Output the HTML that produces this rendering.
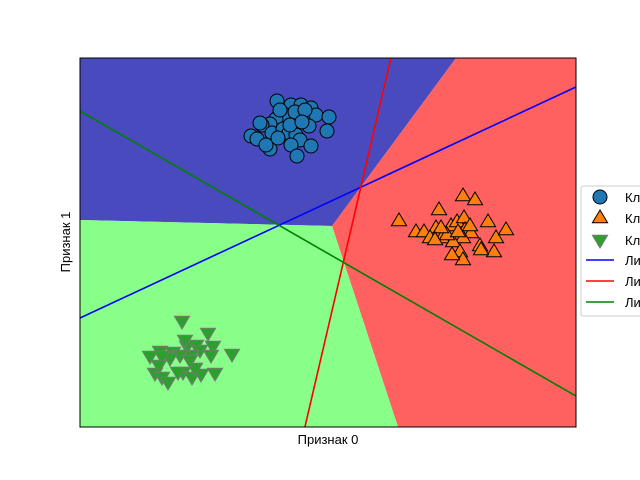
<!DOCTYPE html>
<html><head><meta charset="utf-8"><style>
html,body{margin:0;background:#fff;overflow:hidden;width:640px;height:480px;}
svg{display:block;overflow:hidden;font-family:"Liberation Sans","DejaVu Sans",sans-serif;}
</style></head><body>
<svg id="chart" width="640" height="480">
<defs><clipPath id="clip"><rect x="80" y="58" width="496" height="369"/></clipPath></defs>
<g id="regions" clip-path="url(#clip)"></g>
<g id="lines" clip-path="url(#clip)"></g>
<g id="points"></g>
<rect x="80" y="58" width="496" height="369" fill="none" stroke="#000" stroke-width="1"/>
<text x="328" y="444" font-size="13" text-anchor="middle">Признак 0</text>
<text x="70" y="242" font-size="13" text-anchor="middle" transform="rotate(-90 70 242)">Признак 1</text>
<g id="legend"></g>
</svg>
<script>
const NS="http://www.w3.org/2000/svg";
// data in units: x in [0,496], y in [0,369]
const blueX=[197,211,221,231,236,249,247,229,217,206,196,190,182,171,177,192,203,209,216,220,211,231,217,190,186,180,200,215,225,210,198,222];
const blueY=[326,322,322,319,312,310,296,301,309,312,308,303,302,291,288,294,298,294,292,287,282,281,271,278,282,304,317,315,317,302,289,305];
const orangeX=[319,359,383,395,336,344,356,350,362,371,377,384,385,391,400,408,416,426,414,401,383,373,380,383,372,367,378,361,355,390];
const orangeY=[206,217,231,227,195,195,199,189,189,201,205,209,197,194,181,205,189,197,175,177,189,185,175,167,172,192,195,199,187,201];
const greenX=[102,128,133,152,70,80,93,107,116,105,120,111,100,90,82,75,82,88,103,112,121,135,115,98,131,79,110];
const greenY=[106,94,81,73,71,76,75,81,82,87,77,72,72,69,71,54,50,45,55,50,53,54,59,55,72,62,67];
const regionNames=["region-class-0","region-class-1","region-class-2"];
const regionColors=["#4a4abf","#ff6060","#88ff88"];
const regionPolys=[
 [[0,369],[376,369],[252,201],[0,207]],
 [[376,369],[496,369],[496,0],[318,0],[252,201]],
 [[0,0],[318,0],[252,201],[0,207]]
];
const lineNames=["line-class-0","line-class-1","line-class-2"];
const lineColors=["#0000ff","#ff0000","#008000"];
const lineY0=[109,-965,316];
const lineY1=[340,1163,31];
const sx=v=>80+v, sy=v=>427-v;
function mk(t,a,p){const e=document.createElementNS(NS,t);for(const k in a)e.setAttribute(k,a[k]);(p||document.getElementById('chart')).appendChild(e);return e;}
const R=document.getElementById('regions');
regionPolys.forEach((poly,i)=>{
 const e=mk('polygon',{points:poly.map(p=>sx(p[0])+','+sy(p[1])).join(' '),fill:regionColors[i]},R);
 
 
});
const L=document.getElementById('lines');
lineY0.forEach((v,i)=>{
 const e=mk('line',{x1:sx(0),y1:sy(v),x2:sx(496),y2:sy(lineY1[i]),stroke:lineColors[i],'stroke-width':1.6},L);
 
 
});
const P=document.getElementById('points');
function tri(cx,cy,up,s){return up?`${cx},${cy-s} ${cx-s*0.95},${cy+s*0.6} ${cx+s*0.95},${cy+s*0.6}`:`${cx},${cy+s} ${cx-s*0.95},${cy-s*0.6} ${cx+s*0.95},${cy-s*0.6}`;}
blueX.forEach((x,i)=>{
 const e=mk('circle',{cx:sx(x),cy:sy(blueY[i]),r:7,fill:'#1f77b4',stroke:'#000','stroke-width':1},P);
 
 
});
orangeX.forEach((x,i)=>{
 const e=mk('polygon',{points:tri(sx(x),sy(orangeY[i]),true,8),fill:'#ff7f0e',stroke:'#000','stroke-width':1},P);
 
 
});
greenX.forEach((x,i)=>{
 const e=mk('polygon',{points:tri(sx(x),sy(greenY[i]),false,8),fill:'#2ca02c',stroke:'#777','stroke-width':1},P);
 
 
});
const G=document.getElementById('legend');
const lb=mk('rect',{x:581,y:186,width:70,height:130,rx:2,fill:'#fff',stroke:'#ccc'},G);


const legendLabels=["Класс 0","Класс 1","Класс 2","Линия класса 0","Линия класса 1","Линия класса 2"];
const ly=[197,218,240,260,281,302];
legendLabels.forEach((t,i)=>{
 let m;
 if(i==0) m=mk('circle',{cx:600,cy:ly[i],r:7,fill:'#1f77b4',stroke:'#000'},G);
 else if(i==1) m=mk('polygon',{points:tri(600,ly[i],true,8),fill:'#ff7f0e',stroke:'#000'},G);
 else if(i==2) m=mk('polygon',{points:tri(600,ly[i],false,8),fill:'#2ca02c',stroke:'#777'},G);
 else m=mk('line',{x1:586,y1:ly[i],x2:614,y2:ly[i],stroke:lineColors[i-3],'stroke-width':1.6},G);
 
 
 const tx=mk('text',{x:625,y:ly[i]+5,'font-size':13},G);
 tx.textContent=t;
 
 
});
</script>
</body></html>
